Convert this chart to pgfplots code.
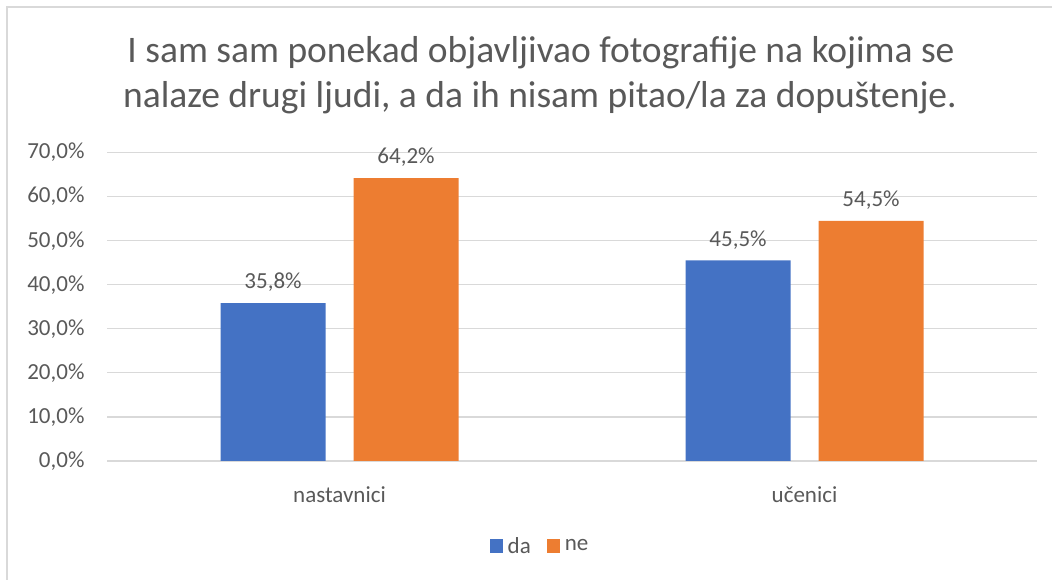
\documentclass[border=0pt]{standalone}
\usepackage{pgfplots}
\pgfplotsset{compat=1.18}
\usepackage{fontspec}
\setmainfont{Carlito}
\definecolor{cblue}{HTML}{4472C4}
\definecolor{corange}{HTML}{ED7D31}
\definecolor{ctext}{HTML}{595959}
\definecolor{cgrid}{HTML}{D9D9D9}
\begin{document}
\begin{tikzpicture}[x=1bp,y=1bp]
\path[use as bounding box] (0,0) rectangle (1052,580);
\draw[cgrid, line width=1.2bp] (7,0) -- (7,573) -- (1052,573);
\node[text=ctext, font=\fontsize{37.5bp}{44bp}\selectfont, anchor=base] at (541,517) {I sam sam ponekad objavljivao fotografije na kojima se};
\node[text=ctext, font=\fontsize{37.5bp}{44bp}\selectfont, anchor=base] at (540,472) {nalaze drugi ljudi, a da ih nisam pitao/la za dopuštenje.};
\begin{axis}[
  at={(107bp,119bp)}, anchor=south west,
  scale only axis, width=930bp, height=308.5bp,
  xmin=-0.5, xmax=1.5, ymin=0, ymax=70,
  axis line style={draw=none},
  axis x line*=bottom,
  ybar, bar width=105bp, bar shift auto=false,
  xtick={0,1}, xticklabels={nastavnici,učenici},
  ytick={0,10,20,30,40,50,60,70},
  yticklabels={0{,}0\%,10{,}0\%,20{,}0\%,30{,}0\%,40{,}0\%,50{,}0\%,60{,}0\%,70{,}0\%},
  yticklabel style={font=\fontsize{23bp}{27bp}\selectfont, text=ctext, anchor=east, xshift=-19bp},
  xticklabel style={font=\fontsize{23bp}{27bp}\selectfont, text=ctext, anchor=base, yshift=-37bp},
  tick style={draw=none},
  ymajorgrids, grid style={cgrid, line width=1.2bp},
  extra y ticks={0}, extra y tick labels={}, extra y tick style={grid style={cgrid, line width=1.5bp}},
  nodes near coords, point meta=explicit symbolic,
  nodes near coords style={font=\fontsize{23bp}{27bp}\selectfont, text=ctext, anchor=south, yshift=8bp},
  legend style={at={(0.4656,-0.2755)}, anchor=center, draw=none, legend columns=2,
    font=\fontsize{23bp}{27bp}\selectfont, text=ctext,
    /tikz/every odd column/.append style={column sep=3bp},
    /tikz/every even column/.append style={column sep=14bp}},
  legend image code/.code={\fill[#1] (0bp,-7bp) rectangle (13bp,7bp);},
]
\addplot[fill=cblue, draw=none, bar shift=-66.5bp] coordinates {(0,35.8) [35{,}8\%] (1,45.5) [45{,}5\%]};
\addplot[fill=corange, draw=none, bar shift=66.5bp] coordinates {(0,64.2) [64{,}2\%] (1,54.5) [54{,}5\%]};
\legend{da,ne}
\end{axis}
\end{tikzpicture}
\end{document}
